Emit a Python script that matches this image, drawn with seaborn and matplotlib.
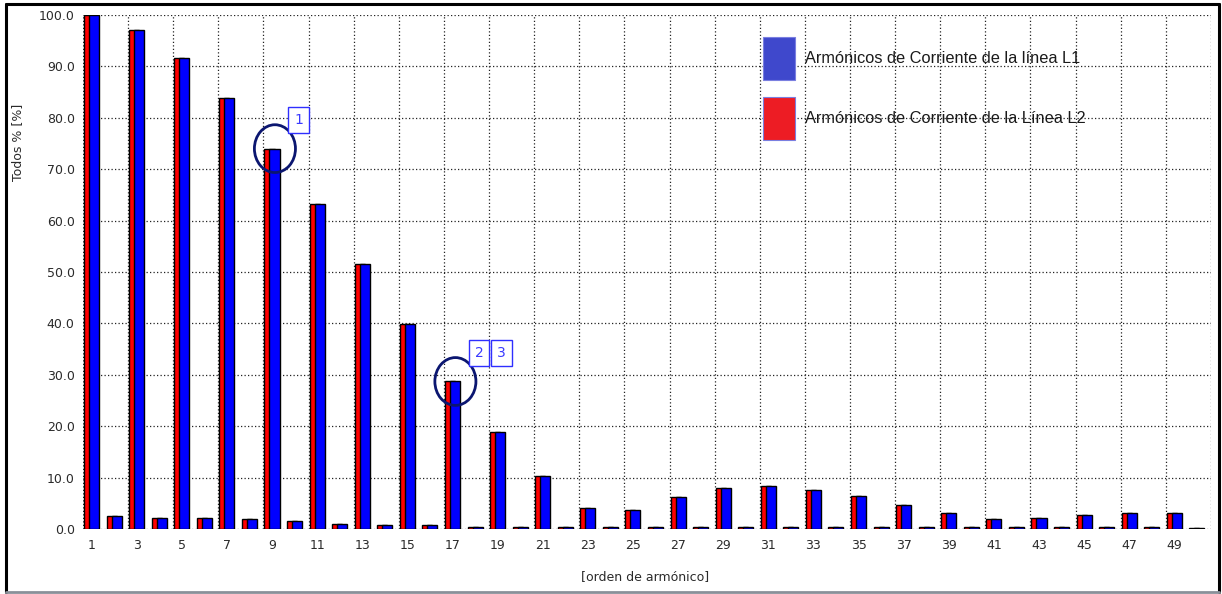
import numpy as np
import matplotlib
matplotlib.use("Agg")
import matplotlib.pyplot as plt
from matplotlib.patches import Ellipse, Patch
from matplotlib.lines import Line2D
import seaborn as sns

# Harmonic orders and the current harmonics (% of fundamental) of both lines
harmonics = list(range(1, 51))
l1_percent = [100.0, 2.5, 97.0, 2.2, 91.6, 2.2, 83.8, 1.9, 74.0, 1.6,
              63.2, 1.0, 51.5, 0.7, 39.8, 0.7, 28.7, 0.3, 18.9, 0.3,
              10.3, 0.3, 4.0, 0.3, 3.6, 0.3, 6.3, 0.3, 7.9, 0.3,
              8.4, 0.3, 7.5, 0.3, 6.4, 0.3, 4.6, 0.3, 3.1, 0.3,
              1.9, 0.3, 2.2, 0.3, 2.8, 0.3, 3.1, 0.3, 3.1, 0.1]
l2_percent = [100.0, 2.5, 97.0, 2.2, 91.6, 2.2, 83.8, 1.9, 74.0, 1.6,
              63.2, 1.0, 51.5, 0.7, 39.8, 0.7, 28.7, 0.3, 18.9, 0.3,
              10.3, 0.3, 4.0, 0.3, 3.6, 0.3, 6.3, 0.3, 7.9, 0.3,
              8.4, 0.3, 7.5, 0.3, 6.4, 0.3, 4.6, 0.3, 3.1, 0.3,
              1.9, 0.3, 2.2, 0.3, 2.8, 0.3, 3.1, 0.3, 3.1, 0.1]
tick_orders = list(range(1, 50, 2))
y_ticks = [0, 10, 20, 30, 40, 50, 60, 70, 80, 90, 100]

legend_labels = ["Armónicos de Corriente de la línea L1",
                 "Armónicos de Corriente de la Línea L2"]
# markers: (harmonic order, list of tag numbers)
markers = [(9, ["1"]), (17, ["2", "3"])]

sns.set_theme(style="white")
plt.rcParams["font.family"] = ["DejaVu Sans"]

W, H = 1222, 594
fig = plt.figure(figsize=(W / 100, H / 100), dpi=100)
fig.patch.set_facecolor("white")
ax = fig.add_axes([83 / W, 1 - 529 / H, (1211 - 83) / W, (529 - 15) / H])

x = np.array(harmonics, dtype=float)
shift = 0.111
bar_w = 0.444

# L2 (red) drawn first, L1 (blue) overlaps it half a bar to the right
sns.barplot(x=x - shift, y=l2_percent, native_scale=True, width=bar_w,
            color="#FF0000", saturation=1, edgecolor="black", linewidth=1.0,
            errorbar=None, ax=ax, zorder=3)
sns.barplot(x=x + shift, y=l1_percent, native_scale=True, width=bar_w,
            color="#0000FF", saturation=1, edgecolor="black", linewidth=1.0,
            errorbar=None, ax=ax, zorder=4)

ax.set_xlim(0.622, 50.625)
ax.set_ylim(0, 100)
ax.set_xticks(tick_orders)
ax.set_xticklabels([str(t) for t in tick_orders])
ax.set_xticks([t - 0.378 for t in tick_orders + [51]], minor=True)
ax.set_yticks(y_ticks)
ax.set_yticklabels([f"{v:.1f}" for v in y_ticks])
ax.tick_params(axis="both", which="both", length=0, labelsize=9,
               colors="#2a2a2a")
ax.tick_params(axis="y", pad=6)
ax.tick_params(axis="x", pad=7)
ax.set_xlabel("")
ax.set_ylabel("")

grid_kw = dict(color="#222222", linewidth=0.9, linestyle=(0, (1, 1.8)))
ax.grid(False)
ax.grid(True, axis="y", which="major", **grid_kw)
ax.grid(True, axis="x", which="minor", **grid_kw)
ax.set_axisbelow(True)
for s in ax.spines.values():
    s.set_visible(False)

# Circled markers with numbered tags
for order, tags in markers:
    idx = harmonics.index(order)
    cx = order + 0.13
    cy = l1_percent[idx]
    ax.add_patch(Ellipse((cx, cy), width=1.82, height=9.3, fill=False,
                         edgecolor="#0b1670", linewidth=2.0, zorder=6,
                         clip_on=False))
    for k, tag in enumerate(tags):
        ax.annotate(tag, xy=(cx, cy), xycoords="data",
                    xytext=(17 + 16.2 * k, 20.5), textcoords="offset points",
                    ha="center", va="center", fontsize=10, color="#3a3aff",
                    bbox=dict(boxstyle="square,pad=0.42", fc="white",
                              ec="#2f2fff", lw=1.0), zorder=7)

# Legend
handles = [Patch(facecolor="#3F48CC", edgecolor="#7a7fe0", linewidth=0.8),
           Patch(facecolor="#ED1C24", edgecolor="#7a7fe0", linewidth=0.8)]
leg = fig.legend(handles, legend_labels, loc="upper left",
                 bbox_to_anchor=(763 / W, 1 - 37 / H), frameon=False,
                 borderpad=0, borderaxespad=0, handlelength=1.95,
                 handleheight=3.7, handletextpad=0.6, labelspacing=1.0,
                 prop={"family": "Liberation Sans", "size": 11.8})
for t in leg.get_texts():
    t.set_color("#1a1a1a")

# Axis titles
fig.text(18 / W, 1 - 142 / H, "Todos % [%]", rotation=90, ha="center",
         va="center", fontsize=9, color="#2a2a2a")
fig.text(645 / W, 1 - 577 / H, "[orden de armónico]", ha="center",
         va="center", fontsize=9, color="#2a2a2a")

# Outer frame
fig.add_artist(Line2D([5.5 / W, 5.5 / W], [1 - 4 / H, 1 - 592 / H],
                      transform=fig.transFigure, color="black", lw=2.2))
fig.add_artist(Line2D([5.5 / W, 1218.5 / W], [1 - 4 / H, 1 - 4 / H],
                      transform=fig.transFigure, color="black", lw=2.2))
fig.add_artist(Line2D([1218.5 / W, 1218.5 / W], [1 - 4 / H, 1 - 592 / H],
                      transform=fig.transFigure, color="black", lw=2.2))
fig.add_artist(Line2D([5.5 / W, 1218.5 / W], [1 - 592 / H, 1 - 592 / H],
                      transform=fig.transFigure, color="#8a9099", lw=2.0))

fig.savefig("out.png", dpi=100)
